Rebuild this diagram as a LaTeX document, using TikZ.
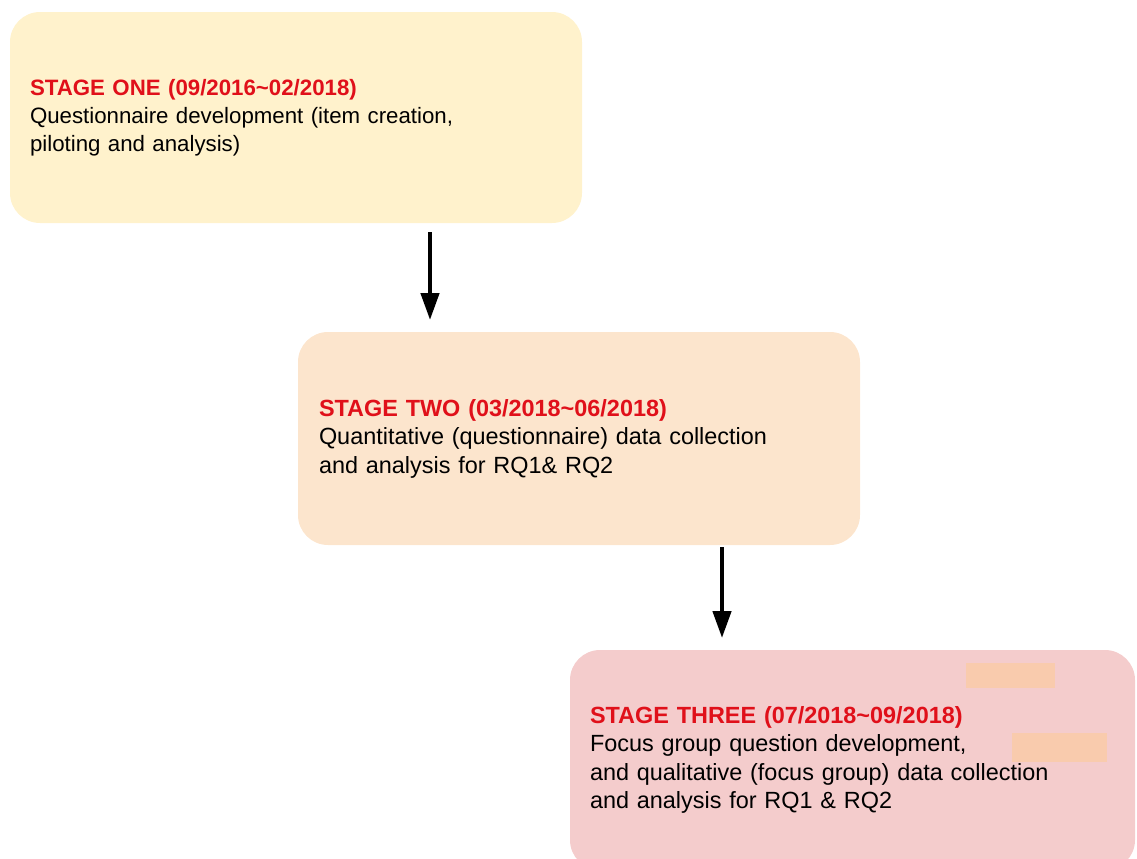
\documentclass[tikz,border=0pt]{standalone}
\usepackage{fontspec}
\setmainfont{Liberation Sans}
\usetikzlibrary{arrows.meta}
\definecolor{stageyellow}{HTML}{FFF2CC}
\definecolor{stageorange}{HTML}{FCE5CD}
\definecolor{stagepink}{HTML}{F4CCCC}
\definecolor{maskpeach}{HTML}{F9CBAD}
\definecolor{stagered}{HTML}{E0101A}
\tikzset{
  stagebox/.style={draw=none, rounded corners=0.9cm, align=left, inner sep=0pt,
    font=\fontsize{20pt}{24.3pt}\selectfont},
  maskbox/.style={fill=maskpeach, draw=none, inner sep=0pt},
  flowarrow/.style={line width=0.1cm, -{Triangle[length=0.8cm,width=0.55cm]}}
}
\newcommand{\stagetitle}[1]{\textcolor{stagered}{\bfseries #1}}
\begin{document}
\begin{tikzpicture}
\useasboundingbox (0,0) rectangle (34.11,-25.74);
\node[stagebox, fill=stageyellow, text width=15.96cm, minimum width=17.16cm, minimum height=6.33cm, font=\fontsize{19pt}{23.8pt}\selectfont] (stage1) at (8.88,-3.525) {\stagetitle{STAGE ONE (09/2016\textasciitilde02/2018)}\\Questionnaire development (item creation,\\piloting and analysis)};
\node[stagebox, fill=stageorange, text width=15.6cm, minimum width=16.86cm, minimum height=6.39cm] (stage2) at (17.37,-13.155) {\stagetitle{STAGE TWO (03/2018\textasciitilde06/2018)}\\Quantitative (questionnaire) data collection\\and analysis for RQ1\& RQ2};
\node[stagebox, fill=stagepink, text width=15.75cm, minimum width=16.95cm, minimum height=6.6cm] (stage3) at (25.575,-22.8) {\stagetitle{STAGE THREE (07/2018\textasciitilde09/2018)}\\Focus group question development,\\and qualitative (focus group) data collection\\and analysis for RQ1 \& RQ2};
\node[maskbox, minimum width=2.67cm, minimum height=0.75cm] (mask1) at (30.315,-20.258) {};
\node[maskbox, minimum width=2.85cm, minimum height=0.87cm] (mask2) at (31.785,-22.425) {};
\draw[flowarrow, shorten <=0.27cm, shorten >=0.36cm] ([xshift=4.02cm]stage1.south) -- ([xshift=4.02cm]stage1.south |- stage2.north);
\draw[flowarrow, shorten <=0.06cm, shorten >=0.36cm] ([xshift=4.29cm]stage2.south) -- ([xshift=4.29cm]stage2.south |- stage3.north);
\end{tikzpicture}
\end{document}
